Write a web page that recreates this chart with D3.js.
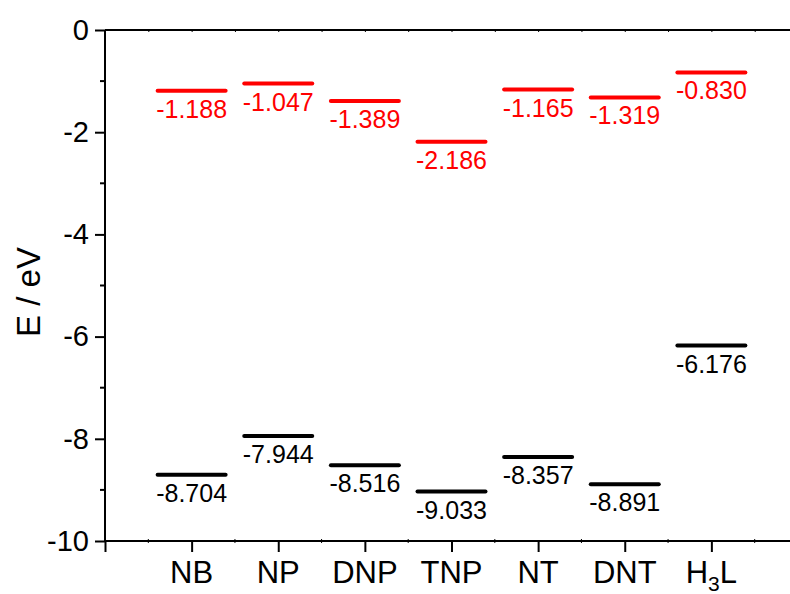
<!DOCTYPE html>
<html>
<head>
<meta charset="utf-8">
<script src="https://cdn.jsdelivr.net/npm/d3@7"></script>
<style>
  html, body { margin: 0; padding: 0; background: #fff; }
  svg { display: block; font-family: "Liberation Sans", Arial, sans-serif; }
</style>
</head>
<body>
<svg id="chart" width="790" height="594"></svg>
<script>
// Frontier orbital energies (eV) for each compound
const categories = ["NB", "NP", "DNP", "TNP", "NT", "DNT", "H3L"];
const lumo = [-1.188, -1.047, -1.389, -2.186, -1.165, -1.319, -0.830];
const homo = [-8.704, -7.944, -8.516, -9.033, -8.357, -8.891, -6.176];
const yMajorTicks = [0, -2, -4, -6, -8, -10];
const yMinorTicks = [-1, -3, -5, -7, -9];

const svg = d3.select("#chart");
const plotLeft = 105, plotTop = 30, plotBottom = 541;

// categories sit at integer positions 1..7 on a 0..8 axis
const x = d3.scaleLinear().domain([0, 8]).range([plotLeft, 798]);
const y = d3.scaleLinear().domain([0, -10]).range([plotTop, plotBottom]);

const axisStroke = 2;

// left axis: major ticks with labels
const gy = svg.append("g").attr("transform", `translate(${plotLeft},0)`)
  .call(d3.axisLeft(y).tickValues(yMajorTicks).tickSize(10).tickPadding(6)
    .tickFormat(d => d === 0 ? "0" : "-" + Math.abs(d)));
gy.select(".domain").attr("stroke-width", axisStroke).attr("d", `M0,${plotTop}V${plotBottom}`);
gy.selectAll(".tick line").attr("stroke-width", axisStroke);
gy.selectAll(".tick text").attr("font-size", 29).attr("font-family", "Liberation Sans, Arial, sans-serif").attr("fill", "#000");

// left axis: minor ticks
svg.append("g").selectAll("line").data(yMinorTicks).join("line")
  .attr("x1", plotLeft - 5).attr("x2", plotLeft)
  .attr("y1", d => y(d)).attr("y2", d => y(d))
  .attr("stroke", "#000").attr("stroke-width", axisStroke);

// bottom axis
const majorX = d3.range(0, 9);
const gx = svg.append("g").attr("transform", `translate(0,${plotBottom})`)
  .call(d3.axisBottom(x).tickValues(majorX).tickSize(11).tickFormat(""));
gx.select(".domain").attr("stroke-width", axisStroke).attr("d", `M${plotLeft},0H${x(8)}`);
gx.selectAll(".tick line").attr("stroke-width", axisStroke);

// bottom axis labels (H3L carries a subscript)
const labels = svg.append("g").selectAll("text").data(categories).join("text")
  .attr("x", (d, i) => x(i + 1))
  .attr("y", 583)
  .attr("text-anchor", "middle")
  .attr("font-size", 31)
  .attr("fill", "#000");
labels.each(function (d) {
  const t = d3.select(this);
  if (d === "H3L") {
    t.append("tspan").text("H");
    t.append("tspan").text("3").attr("font-size", 21).attr("dy", 8);
    t.append("tspan").text("L").attr("dy", -8);
  } else {
    t.text(d);
  }
});

// tiny minor ticks on the bottom edge
const halfX = d3.range(0.5, 8, 1);
svg.append("g").selectAll("line").data(halfX).join("line")
  .attr("x1", d => x(d)).attr("x2", d => x(d))
  .attr("y1", plotBottom - 2).attr("y2", plotBottom + 2)
  .attr("stroke", "#000").attr("stroke-width", 1);

// top axis line with tiny ticks
const topTicks = d3.range(0, 8.01, 0.5);
const gt = svg.append("g").attr("transform", `translate(0,${plotTop})`)
  .call(d3.axisTop(x).tickValues(topTicks).tickSize(-2).tickFormat(""));
gt.select(".domain").attr("stroke-width", axisStroke).attr("d", `M${plotLeft},0H${x(8)}`);
gt.selectAll(".tick line").attr("stroke-width", 1);

// y-axis title
svg.append("text")
  .attr("transform", "translate(40,292) rotate(-90)")
  .attr("text-anchor", "middle")
  .attr("font-size", 33)
  .attr("fill", "#000")
  .text("E / eV");

// energy level bars with value labels
const halfW = 34;
function drawLevels(values, color) {
  const g = svg.append("g");
  g.selectAll("line").data(values).join("line")
    .attr("x1", (d, i) => x(i + 1) - halfW)
    .attr("x2", (d, i) => x(i + 1) + halfW)
    .attr("y1", d => y(d)).attr("y2", d => y(d))
    .attr("stroke", color).attr("stroke-width", 4).attr("stroke-linecap", "round");
  g.selectAll("text").data(values).join("text")
    .attr("x", (d, i) => x(i + 1))
    .attr("y", d => y(d) + 27)
    .attr("text-anchor", "middle")
    .attr("font-size", 25)
    .attr("fill", color)
    .text(d => d.toFixed(3));
}
drawLevels(lumo, "#ff0000");
drawLevels(homo, "#000000");
</script>
</body>
</html>
